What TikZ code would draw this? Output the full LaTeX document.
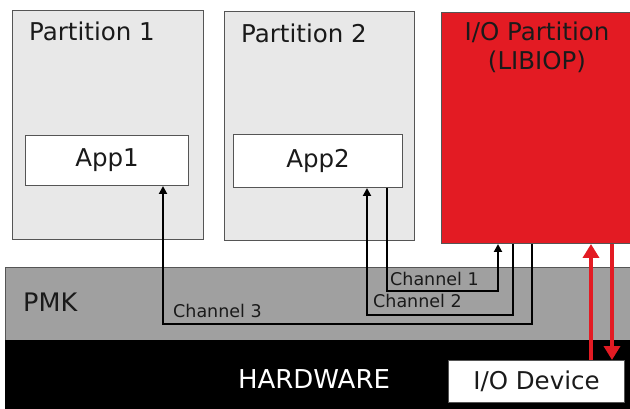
\documentclass[tikz,border=0pt]{standalone}
\usepackage{fontspec}
\setmainfont{DejaVu Sans}
\usetikzlibrary{arrows.meta}
\definecolor{partfill}{HTML}{E8E8E8}
\definecolor{partline}{HTML}{555555}
\definecolor{pmkfill}{HTML}{A0A0A0}
\definecolor{iored}{HTML}{E31B23}
\definecolor{txt}{HTML}{1A1A1A}
\tikzset{
  part/.style={draw=partline, fill=partfill, line width=1pt, anchor=north west, inner sep=0pt},
  appbox/.style={draw=partline, fill=white, line width=1pt, anchor=north west, inner sep=0pt,
    font=\fontsize{24.5}{29}\selectfont, text=txt},
  big/.style={font=\fontsize{24.5}{29}\selectfont, text=txt, inner sep=0pt},
  chlabel/.style={font=\fontsize{17.5}{21}\selectfont, text=txt, inner sep=0pt, anchor=base west},
  chan/.style={draw=black, line width=2pt},
  chtip/.style={-{Triangle[width=8pt,length=8pt]}},
  redline/.style={draw=iored, line width=3.6pt, -{Triangle[width=16pt,length=14pt]}},
}
\begin{document}
\begin{tikzpicture}[x=1pt,y=-1pt]
\useasboundingbox (0,0) rectangle (630,409);
\begin{scope}
\clip (0,0) rectangle (630,409);
% partitions
\node[part, minimum width=191pt, minimum height=229pt] (p1) at (12,10) {};
\node[part, minimum width=190pt, minimum height=229pt] (p2) at (224,11) {};
\node[draw=partline, fill=iored, line width=1pt, anchor=north west, inner sep=0pt,
      minimum width=200pt, minimum height=231pt] (iop) at (441,12) {};
% PMK and hardware
\node[draw=partline, fill=pmkfill, line width=1pt, anchor=north west, inner sep=0pt,
      minimum width=640pt, minimum height=73pt] (pmk) at (5,267) {};
\node[draw=black, fill=black, anchor=north west, inner sep=0pt,
      minimum width=640pt, minimum height=80pt] (hw) at (5,340) {};
% apps
\node[appbox, minimum width=163pt, minimum height=50pt] (app1) at (25,135) {};
\node[big] (app1t) at (app1.center) {App1};
\node[appbox, minimum width=169pt, minimum height=53pt] (app2) at (233,134) {};
\node[big] (app2t) at (app2.center) {App2};
\node[appbox, minimum width=176pt, minimum height=42pt] (iodev) at (448,360) {};
\node[big] (iodevt) at (iodev.center) {I/O Device};
% titles
\node[big, anchor=base west] (p1t) at (29,41) {Partition 1};
\node[big, anchor=base west] (p2t) at (241,43) {Partition 2};
\node[big, align=center] (iopt) at (537,47) {I/O Partition\\(LIBIOP)};
\node[big, font=\fontsize{25.5}{30}\selectfont, anchor=base west] (pmkt) at (23,312) {PMK};
\node[big, font=\fontsize{26}{30}\selectfont, text=white, anchor=base] (hwt) at (314,388) {HARDWARE};
% channels
\draw[chan, chtip] ([xshift=154pt]app2.south west) -- ++(0,103) -| ([xshift=57pt]iop.south west);
\draw[chan, chtip] ([xshift=72pt]iop.south west) -- ++(0,71) -| ([xshift=134pt]app2.south west);
\draw[chan, chtip] ([xshift=91pt]iop.south west) -- ++(0,80) -| ([xshift=138pt]app1.south west);
\node[chlabel] (c1) at (390,285) {Channel 1};
\node[chlabel] (c2) at (373,308) {Channel 2};
\node[chlabel] (c3) at (173,317) {Channel 3};
% red arrows
\draw[redline] ([xshift=143pt]iodev.north west) -- ([xshift=150pt]iop.south west);
\draw[redline] ([xshift=171pt]iop.south west) -- ([xshift=164pt]iodev.north west);
\end{scope}
\end{tikzpicture}
\end{document}
